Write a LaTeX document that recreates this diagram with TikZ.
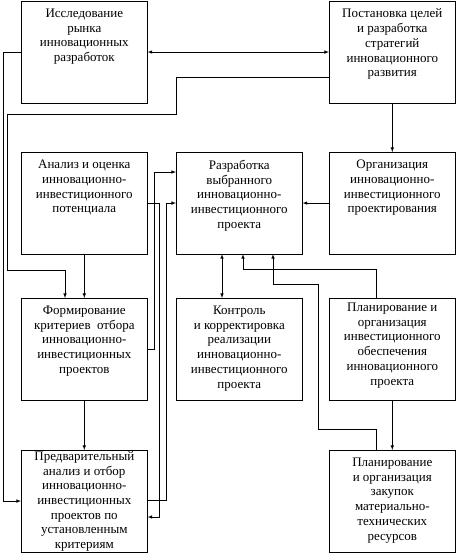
\documentclass[tikz,border=0pt]{standalone}
\usepackage{fontspec}
\setmainfont{Liberation Serif}
\usetikzlibrary{arrows}
\newcommand{\blocktext}[1]{\parbox[t][86pt][t]{124pt}{\centering #1}}
\tikzstyle{scheme}=[x=1pt, y=-1pt, line width=0.6pt, font=\fontsize{13}{14.7}\selectfont]
\tikzstyle{blk}=[rectangle, draw, anchor=north west, inner xsep=1pt, inner ysep=7.5pt, minimum width=126pt, minimum height=101.5pt]
\tikzstyle{edge}=[-latex]
\tikzstyle{dedge}=[latex-latex]

\begin{document}
\begin{tikzpicture}[scheme]
	\useasboundingbox (0,0) rectangle (457,558);

	%The first row
	\draw (21,1) node[blk] (market) {\blocktext{Исследование\\ рынка\\ инновационных\\ разработок}};
	\draw (329,1) node[blk] (goals) {\blocktext{Постановка целей\\ и разработка\\ стратегий\\ инновационного\\ развития}};

	%The second row
	\draw (21,152) node[blk] (analysis) {\blocktext{Анализ и оценка\\ инновационно-\\ инвестиционного\\ потенциала}};
	\draw (176,152) node[blk, minimum width=125pt] (project) {\blocktext{Разработка\\ выбранного\\ инновационно-\\ инвестиционного\\ проекта}};
	\draw (329,152) node[blk] (design) {\blocktext{Организация\\ инновационно-\\ инвестиционного\\ проектирования}};

	%The third row
	\draw (21,298) node[blk] (criteria) {\blocktext{Формирование\\ критериев~ отбора\\ инновационно-\\ инвестиционных\\ проектов}};
	\draw (176,298) node[blk, minimum width=125pt] (control) {\blocktext{Контроль\\ и корректировка\\ реализации\\ инновационно-\\ инвестиционного\\ проекта}};
	\draw (329,298) node[blk] (invest) {\blocktext{\vspace*{-3pt}Планирование и\\ организация\\ инвестиционного\\ обеспечения\\ инновационного\\ проекта}};

	%The fourth row
	\draw (21,450) node[blk] (select) {\blocktext{\vspace*{-6.5pt}Предварительный\\ анализ и отбор\\ инновационно-\\ инвестиционных\\ проектов по\\ установленным\\ критериям}};
	\draw (329,450) node[blk] (supply) {\blocktext{Планирование\\ и организация\\ закупок\\ материально-\\ технических\\ ресурсов}};

	%The straight links
	\draw[dedge] (market) -- (goals);
	\draw[edge] (goals) -- (design);
	\draw[edge] (design) -- (project);
	\draw[edge] (analysis) -- (criteria);
	\draw[edge] (criteria) -- (select);
	\draw[edge] (invest) -- (supply);
	\draw[dedge] (project.south -| 222,0) -- (control.north -| 222,0);

	%The links round the left side
	\draw[edge] (goals.west |- 0,77) -| (176,114) -| (7,270) -| (criteria.north -| 65,0);
	\draw[edge] (market.west) -- ++(-18,0) |- (select.west);

	%The links in the middle
	\draw[edge] (criteria.east) -- ++(7,0) |- (project.west |- 0,172);
	\draw[edge] (analysis.east) -- ++(12,0) |- (select.east |- 0,517);
	\draw[edge] (select.east |- 0,500) -- ++(19,0) |- (project.west);

	%The links from the right side
	\draw[edge] (invest.north -| 376,0) |- (243,269) -- (project.south -| 243,0);
	\draw[edge] (supply.north -| 376,0) |- (318,429) |- (273,284) -- (project.south -| 273,0);
\end{tikzpicture}
\end{document}
